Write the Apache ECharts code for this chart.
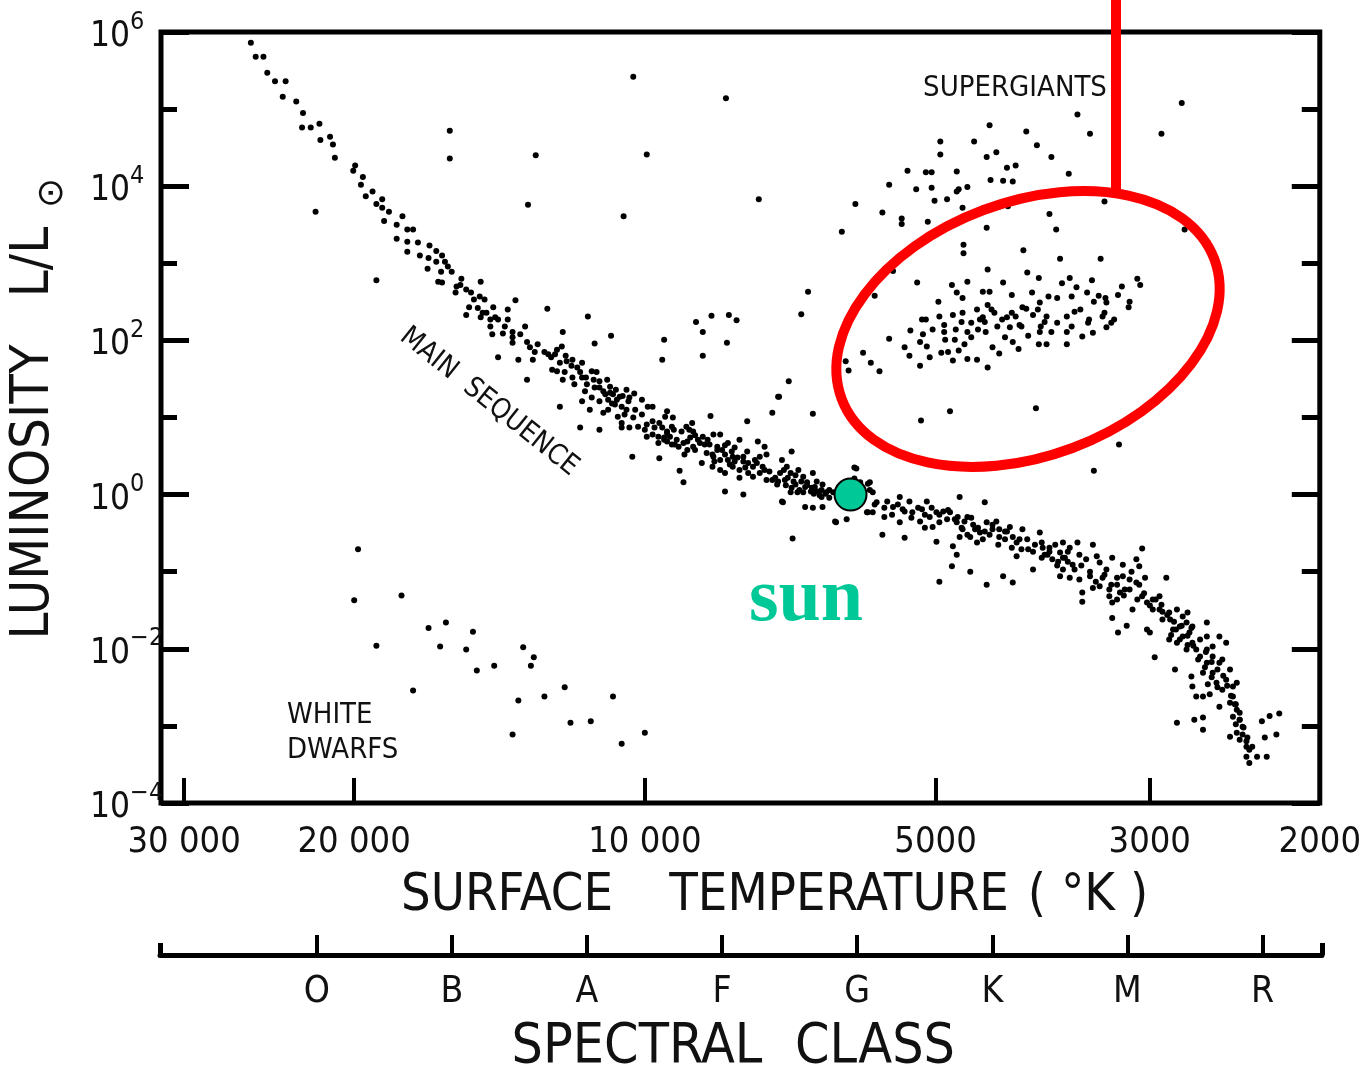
<!DOCTYPE html>
<html>
<head>
<meta charset="utf-8">
<script src="https://cdn.jsdelivr.net/npm/echarts@6/dist/echarts.min.js"></script>
<style>
  html, body { margin: 0; padding: 0; background: #fff; }
  #chart { width: 1364px; height: 1072px; }
</style>
</head>
<body>
<div id="chart"></div>
<script>
// ---- Axis definitions -------------------------------------------------
const tempRange = [2000, 31700];                       // K, right to left
const tempTicks = [30000, 20000, 10000, 5000, 3000, 2000];
const tempTickLabels = ['30 000', '20 000', '10 000', '5000', '3000', '2000'];
const lumRange = [-4, 6];                              // log10 L/Lsun
const spectralClasses = ['O', 'B', 'A', 'F', 'G', 'K', 'M', 'R'];
const spectralRange = [-1.16, 7.44];                   // class index span of the lower scale

// ---- Stars: [log10 T (K), log10 L/Lsun] --------------------------------
const mainSequenceUpper = [
  [4.408,5.86],[4.403,5.68],[4.395,5.68],[4.391,5.47],[4.383,5.36],[4.372,5.36],[4.375,5.16],[4.361,5.10],
  [4.354,4.95],[4.355,4.76],[4.346,4.76],[4.337,4.81],[4.336,4.60],[4.326,4.64],[4.323,4.54],[4.321,4.37],
  [4.300,4.27],[4.302,4.20],[4.292,4.12],[4.294,4.02],[4.289,3.87],[4.282,3.93],[4.278,3.77],[4.272,3.83],
  [4.272,3.72],[4.265,3.67],[4.270,3.55],[4.251,3.61],[4.257,3.50],[4.246,3.44],[4.240,3.44],[4.257,3.32],
  [4.246,3.28],[4.235,3.27],[4.223,3.23],[4.216,3.16],[4.246,3.15],[4.233,3.10],[4.224,3.07],[4.210,3.10],
  [4.216,3.02],[4.204,2.96],[4.225,2.93],[4.211,2.89],[4.214,2.76],[4.210,2.75],[4.190,2.80],[4.195,2.70],
  [4.196,2.62],[4.170,2.76],[4.180,2.62],[4.171,2.57],[4.166,2.53],[4.182,2.43],[4.185,2.33],[4.168,2.36],
  [4.157,2.43],[4.170,2.30],[4.160,2.27],[4.152,2.27],[4.142,2.40],[4.134,2.52],[4.142,2.27],[4.160,2.18],
  [4.158,2.08],[4.147,2.09],[4.137,2.11],[4.124,2.18],[4.137,1.97],[4.122,1.98],[4.111,1.95],[4.101,2.41],
  [4.085,2.11],[4.086,1.92],[4.152,1.78],[4.131,1.75],[4.116,1.75],[4.100,1.82],[4.093,1.82],
  [4.207,3.02],[4.200,2.89],[4.191,2.72],[4.185,2.66],[4.177,2.53],[4.173,2.42],[4.164,2.36],[4.155,2.30],
  [4.145,2.18],[4.137,2.04],[4.129,2.08],[4.119,1.91],[4.114,1.85]
];
const mainSequenceMiddle = [
  [4.096,1.62],[4.091,1.60],[4.085,1.49],[4.088,1.71],[4.081,1.73],[4.075,1.75],[4.065,1.71],[4.070,1.65],
  [4.075,1.52],[4.065,1.52],[4.060,1.43],[4.055,1.60],[4.050,1.59],[4.047,1.47],[4.039,1.49],[4.036,1.40],
  [4.043,1.34],[4.033,1.30],[4.026,1.27],[4.019,1.36],[4.016,1.26],[4.024,1.14],[4.029,1.23],[4.038,1.23],
  [4.047,1.21],[4.055,1.26],[4.065,1.21],[4.057,1.10],[4.043,1.06],[4.038,1.10],[4.028,1.01],[4.019,1.10],
  [4.003,1.23],[3.997,1.14],[3.992,1.14],[4.003,1.04],[4.012,1.00],[4.024,0.93],[4.024,0.87],[4.016,0.87],
  [4.007,0.88],[3.998,0.91],[3.992,0.95],[3.985,0.93],[3.977,1.08],[3.979,1.01],[3.971,1.00],[3.972,0.88],
  [3.977,0.82],[3.974,0.75],[3.986,0.75],[3.992,0.78],[3.998,0.75],[3.986,0.67],[3.977,0.69],[3.967,0.71],
  [3.962,0.82],[3.957,0.88],[3.951,0.93],[3.950,0.82],[3.953,0.74],[3.960,0.67],[3.965,0.62],[3.956,0.58],
  [3.950,0.62],[3.943,0.67],[3.940,0.75],[3.935,0.71],[3.929,0.78],[3.922,0.78],[3.925,0.62],[3.920,0.58],
  [3.914,0.67],[3.907,0.61],[3.902,0.71],[3.894,0.56],[3.898,0.49],[3.909,0.49],[3.914,0.45],[3.922,0.45],
  [3.929,0.49],[3.936,0.54],[3.941,0.41],[3.930,0.36],[3.922,0.32],[3.917,0.28],[3.909,0.36],[3.902,0.32],
  [3.893,0.41],[3.888,0.36],[3.883,0.69],[3.876,0.62],[3.874,0.52],[3.881,0.49],[3.884,0.41],[3.878,0.36],
  [3.871,0.30],[3.881,0.28],[3.888,0.23],[3.893,0.28],[3.902,0.22],[3.874,0.19],[3.868,0.19],[3.860,0.28],
  [3.863,0.13],[3.853,0.36],[3.849,0.28],[3.846,0.17],[3.841,0.32],[3.836,0.23],[3.832,0.16],[3.826,0.28],
  [3.822,0.17],[3.824,0.10],[3.816,0.13],[3.812,0.03],[3.817,-0.03],[3.809,-0.04],[3.805,0.03],[3.848,0.56],
  [3.858,0.45],[3.858,-0.09],[3.849,0.03],[3.842,0.03],[3.836,0.03],[3.828,0.04],[3.834,-0.16],[3.826,-0.17],
  [3.816,-0.16],[3.803,-0.35],[3.791,-0.32],[3.783,0.35],[3.777,0.16],[3.767,0.16],[3.764,0.03],[3.760,-0.10],
  [3.764,-0.23],[3.770,-0.23],[3.917,0.04],[3.898,0.00],[3.964,0.31],[3.960,0.16],[3.985,0.47],[4.013,0.49],
  [4.047,0.84],[4.067,0.87],[4.088,1.14],[4.122,1.49],[3.821,0.04],[3.817,0.06],[3.813,0.01],[3.819,-0.01],
  [3.825,0.01],[3.809,0.06],[3.767,0.06],[3.762,-0.13],[3.769,-0.23],[3.749,-0.09],[3.743,-0.16],[3.736,-0.03],
  [3.733,-0.19],[3.726,-0.09],[3.723,-0.23],[3.752,-0.29],[3.736,-0.36],[3.754,-0.52],[3.731,-0.56],[3.781,0.34],
  [3.783,0.21],[3.769,0.14],[3.802,-0.36],[3.826,1.05],[3.868,1.06],[3.862,1.27],[3.894,0.95],[3.857,-0.10],
  [3.847,-0.57],
  [4.083,1.59],[4.073,1.43],[4.062,1.34],[4.052,1.39],[4.041,1.30],[4.031,1.17],[4.021,1.04],[4.010,1.10],
  [4.000,0.84],[3.990,0.87],[3.980,0.74],[3.969,0.65],[3.959,0.52],[3.948,0.58],[3.938,0.65],[3.930,0.52],
  [3.917,0.52],[3.907,0.43],[3.896,0.35],[3.886,0.45],[3.876,0.32],[3.865,0.22],[3.855,0.19],[3.844,0.13],
  [3.834,0.10],[3.827,0.09],
  [4.036,1.32],[4.030,1.36],[4.023,1.28],[4.017,1.21],[4.034,1.18],[4.011,1.31],[3.982,0.87],[3.977,0.80],
  [3.970,0.84],[3.980,0.71],[3.972,0.65],[3.954,0.84],[3.948,0.77],[3.956,0.69],[3.945,0.71],[3.933,0.65],
  [3.925,0.58],[3.917,0.64],[3.910,0.56],[3.904,0.48],[3.898,0.43],[3.928,0.43],[3.912,0.39],[3.856,0.32],
  [3.852,0.22],[3.844,0.25],[3.838,0.17],[3.832,0.12],[3.824,0.04],[3.840,0.06],[3.848,0.09],[3.854,0.12],
  [3.862,0.17],[4.104,1.85],[4.097,1.78],[4.091,1.88],[4.082,1.80],[4.076,1.67],[4.067,1.59],[4.061,1.52],
  [4.053,1.49],[4.047,1.39]
];
const mainSequenceLower = [
  [3.713,-0.19],[3.708,-0.09],[3.715,-0.35],[3.710,-0.43],[3.705,-0.29],[3.698,-0.23],[3.691,-0.22],[3.684,-0.23],
  [3.695,-0.36],[3.687,-0.32],[3.702,-0.42],[3.674,-0.03],[3.648,-0.10],[3.677,-0.36],[3.671,-0.45],[3.674,-0.55],
  [3.666,-0.29],[3.660,-0.39],[3.663,-0.55],[3.656,-0.62],[3.653,-0.49],[3.646,-0.36],[3.640,-0.45],[3.636,-0.35],
  [3.633,-0.55],[3.625,-0.48],[3.619,-0.55],[3.615,-0.62],[3.609,-0.45],[3.610,-0.71],[3.615,-0.80],[3.604,-0.58],
  [3.598,-0.74],[3.598,-0.97],[3.591,-0.49],[3.589,-0.62],[3.586,-0.78],[3.581,-0.69],[3.578,-0.84],[3.570,-0.75],
  [3.567,-0.62],[3.562,-0.74],[3.557,-0.91],[3.552,-0.62],[3.550,-0.78],[3.543,-0.84],[3.536,-0.65],[3.532,-0.80],
  [3.529,-0.88],[3.522,-0.97],[3.516,-0.82],[3.505,-0.91],[3.491,-0.84],[3.488,-0.93],[3.485,-0.70],[3.570,-1.06],
  [3.560,-1.08],[3.567,-0.97],[3.550,-1.10],[3.539,-1.06],[3.536,-1.21],[3.529,-1.19],[3.547,-1.27],[3.547,-1.39],
  [3.519,-1.32],[3.516,-1.40],[3.508,-1.27],[3.505,-1.06],[3.498,-1.10],[3.491,-1.14],[3.485,-1.32],[3.495,-1.49],
  [3.480,-1.40],[3.474,-1.36],[3.467,-1.32],[3.460,-1.08],[3.474,-1.49],[3.467,-1.49],[3.464,-1.62],[3.457,-1.53],
  [3.449,-1.49],[3.443,-1.58],[3.438,-1.53],[3.446,-1.71],[3.453,-1.75],[3.457,-1.88],[3.449,-1.92],[3.443,-1.84],
  [3.436,-1.79],[3.433,-1.92],[3.439,-2.01],[3.429,-2.01],[3.425,-2.10],[3.418,-1.66],[3.418,-1.84],[3.412,-1.97],
  [3.405,-1.84],[3.398,-1.92],[3.412,-2.10],[3.405,-2.18],[3.418,-2.18],[3.422,-2.31],[3.412,-2.31],[3.402,-2.14],
  [3.394,-2.27],[3.398,-2.40],[3.408,-2.44],[3.402,-2.53],[3.391,-2.49],[3.387,-2.44],[3.391,-2.62],[3.394,-2.70],
  [3.387,-2.79],[3.391,-2.88],[3.384,-2.92],[3.381,-3.01],[3.387,-3.09],[3.384,-3.18],[3.394,-3.14],[3.377,-3.27],
  [3.371,-3.27],[3.377,-3.40],[3.366,-3.40],[3.374,-3.48],[3.356,-3.40],[3.358,-3.15],[3.346,-3.11],[3.361,-2.94],
  [3.353,-2.87],[3.343,-2.84],[3.405,-2.75],[3.422,-2.89],[3.431,-2.92],[3.449,-2.96],[3.422,-3.05],[3.433,-2.49],
  [3.429,-2.62],[3.422,-2.62],[3.415,-2.59],[3.434,-2.36],[3.451,-2.27],[3.472,-2.11],[3.480,-1.75],[3.477,-1.79],
  [3.501,-1.70],[3.510,-1.79],[3.516,-1.60],[3.418,-2.01],[3.433,-1.71],[3.439,-1.66],[3.698,-0.61],[3.681,-0.67],
  [3.677,-0.78],[3.682,-0.93],[3.663,-1.00],[3.695,-1.13],[3.646,-1.17],[3.629,-1.06],[3.619,-1.14],
  [3.676,-0.29],[3.669,-0.35],[3.662,-0.30],[3.655,-0.43],[3.648,-0.48],[3.640,-0.39],[3.633,-0.45],[3.627,-0.58],
  [3.622,-0.42],[3.588,-0.69],[3.583,-0.78],[3.575,-0.65],[3.565,-0.82],[3.560,-0.69],[3.572,-0.87],[3.524,-1.04],
  [3.517,-1.17],[3.511,-1.08],[3.503,-1.23],[3.496,-1.00],[3.488,-1.17],[3.482,-1.08],[3.511,-1.36],[3.465,-1.43],
  [3.459,-1.56],[3.452,-1.65],[3.446,-1.88],[3.438,-1.95],[3.434,-1.73],[3.455,-1.82],[3.427,-2.14],[3.420,-2.24],
  [3.413,-2.37],[3.407,-2.50],[3.417,-2.46],[3.389,-2.72],[3.384,-2.83],[3.388,-2.98],[3.381,-3.11],[3.377,-3.20],
  [3.752,-0.17],[3.744,-0.26],[3.738,-0.13],[3.731,-0.22],[3.724,-0.30],[3.717,-0.17],[3.710,-0.26],[3.703,-0.17],
  [3.695,-0.26],[3.686,-0.20],[3.679,-0.32],[3.672,-0.43],[3.666,-0.52],[3.658,-0.45],[3.650,-0.58],[3.643,-0.52],
  [3.634,-0.65],[3.627,-0.48],[3.620,-0.69],[3.612,-0.58],[3.603,-0.71],[3.596,-0.65],[3.589,-0.82],[3.581,-0.74],
  [3.573,-0.92],[3.567,-0.82],[3.562,-0.87],[3.555,-0.97],[3.548,-0.92],[3.539,-1.00],[3.533,-1.13],[3.526,-1.08],
  [3.519,-1.23],[3.511,-1.17],[3.504,-1.31],[3.498,-1.23],[3.490,-1.36],[3.483,-1.28],[3.477,-1.44],[3.471,-1.36],
  [3.464,-1.52],[3.456,-1.62],[3.450,-1.75],[3.444,-1.70],[3.438,-1.83],[3.432,-1.96],[3.425,-1.88],[3.419,-2.04],
  [3.413,-2.17],[3.407,-2.27],[3.401,-2.35],[3.397,-2.48],[3.393,-2.61],[3.388,-2.72],[3.384,-2.92],[3.380,-3.02],
  [3.376,-3.15],[3.374,-3.31]
];
const giantsAndSupergiants = [
  [3.444,5.08],[3.552,4.93],[3.539,4.68],[3.465,4.68],[3.643,4.79],[3.605,4.71],[3.694,4.58],[3.659,4.58],
  [3.694,4.41],[3.594,4.53],[3.636,4.44],[3.646,4.38],[3.579,4.38],[3.625,4.24],[3.616,4.27],[3.728,4.20],
  [3.709,4.18],[3.703,4.18],[3.677,4.19],[3.561,4.16],[3.642,4.08],[3.629,4.07],[3.619,4.06],[3.747,4.02],
  [3.703,3.98],[3.719,3.96],[3.677,3.93],[3.675,3.96],[3.666,3.99],[3.700,3.81],[3.687,3.83],[3.671,3.72],
  [3.624,3.74],[3.782,3.77],[3.754,3.66],[3.734,3.58],[3.734,3.51],[3.707,3.54],[3.524,3.80],[3.581,3.64],
  [3.646,3.46],[3.574,3.44],[3.796,3.41],[3.441,3.44],[3.670,3.24],[3.670,3.13],[3.608,3.17],[3.570,3.06],
  [3.528,3.06],[3.743,2.90],[3.645,2.92],[3.604,2.88],[3.592,2.81],[3.718,2.75],[3.682,2.72],[3.666,2.76],
  [3.629,2.75],[3.560,2.81],[3.568,2.74],[3.537,2.78],[3.490,2.80],[3.487,2.72],[3.506,2.70],[3.553,2.69],
  [3.762,2.58],[3.696,2.50],[3.677,2.62],[3.671,2.55],[3.650,2.63],[3.643,2.63],[3.620,2.59],[3.599,2.62],
  [3.591,2.49],[3.582,2.57],[3.573,2.55],[3.558,2.57],[3.542,2.62],[3.535,2.50],[3.530,2.58],[3.523,2.55],
  [3.522,2.49],[3.510,2.59],[3.498,2.50],[3.499,2.43],[3.524,2.36],[3.526,2.31],[3.514,2.27],[3.517,2.23],
  [3.522,2.17],[3.536,2.10],[3.540,2.27],[3.541,2.23],[3.549,2.40],[3.555,2.37],[3.563,2.31],[3.558,2.18],
  [3.573,2.23],[3.563,2.11],[3.563,1.95],[3.547,2.05],[3.579,2.11],[3.584,2.31],[3.586,2.24],[3.590,2.18],
  [3.591,2.11],[3.598,2.33],[3.593,2.40],[3.609,2.43],[3.605,2.41],[3.610,2.18],[3.612,2.20],[3.603,2.06],
  [3.616,2.31],[3.620,2.36],[3.625,2.30],[3.622,2.17],[3.630,2.27],[3.635,2.18],[3.638,2.36],[3.641,2.40],
  [3.645,2.46],[3.650,2.30],[3.656,2.40],[3.653,2.27],[3.648,2.24],[3.647,2.11],[3.655,2.14],[3.662,2.04],
  [3.662,2.23],[3.666,2.11],[3.671,2.36],[3.672,2.24],[3.678,2.14],[3.681,2.33],[3.690,2.20],[3.690,2.11],
  [3.689,2.01],[3.679,2.01],[3.669,1.95],[3.675,1.87],[3.686,1.85],[3.693,1.84],[3.695,2.31],[3.702,2.14],
  [3.709,2.27],[3.713,2.27],[3.712,2.08],[3.715,1.98],[3.708,1.92],[3.725,2.13],[3.731,1.91],[3.726,1.80],
  [3.705,1.78],[3.715,1.67],[3.681,1.74],[3.666,1.76],[3.656,1.75],[3.645,1.65],[3.633,1.83],[3.640,1.91],
  [3.627,2.04],[3.619,1.98],[3.613,1.89],[3.592,1.95],[3.584,1.95],[3.747,2.02],[3.757,1.60],[3.684,1.08],
  [3.714,0.96],[3.595,1.12],[3.509,0.65],[3.535,0.31]
];
const fieldStars = [
  [4.012,5.42],[3.916,5.14],[3.998,4.41],[3.882,3.83],[4.022,3.61],[3.831,2.63],[3.838,2.34],[3.931,2.32],
  [3.913,2.33],[3.947,2.24],[3.905,2.26],[3.940,2.11],[3.915,1.97],[3.940,1.80],[3.980,2.01],[3.982,1.75],
  [4.035,2.06],[4.052,1.96],[4.059,2.31],[3.851,1.47],[3.861,1.27],[3.932,1.02],[3.774,1.84],[3.766,1.71],
  [3.792,1.73],[3.789,1.61],[4.341,3.67],[4.278,2.78],[4.202,4.72],[4.202,4.36],[4.113,4.40],[4.121,3.76]
];
const whiteDwarfs = [
  [4.297,-0.71],[4.301,-1.37],[4.252,-1.31],[4.278,-1.96],[4.224,-1.73],[4.206,-1.66],[4.178,-1.78],[4.212,-1.97],
  [4.185,-2.01],[4.174,-2.28],[4.156,-2.22],[4.126,-1.98],[4.115,-2.11],[4.118,-2.22],[4.240,-2.54],[4.131,-2.67],
  [4.104,-2.62],[4.083,-2.50],[4.033,-2.62],[4.137,-3.11],[4.077,-2.96],[4.056,-2.94],[4.024,-3.23],[4.000,-3.09]
];
const sunPoint = [3.787, 0];

// ---- Styling --------------------------------------------------------------
const FONT = '"Liberation Sans Narrow", "DejaVu Sans Condensed", "Noto Sans", sans-serif';
const INK = '#111';
const RED = '#ff0000';
const SUN_GREEN = '#00c896';

const stars = [].concat(mainSequenceUpper, mainSequenceMiddle, mainSequenceLower,
                        giantsAndSupergiants, fieldStars, whiteDwarfs);

const tempTickPos = tempTicks.map(t => Math.log10(t));
const classPos = spectralClasses.map((_, i) => i);

function tempLabel(v) {
  const i = tempTickPos.findIndex(p => Math.abs(p - v) < 1e-6);
  return i >= 0 ? tempTickLabels[i] : '';
}
function lumLabel(v) {
  const e = Math.round(v);
  return '{b|10}{s|' + (e < 0 ? '\u2212' + (-e) : e) + '}';
}

const yBase = {
  type: 'value', gridIndex: 0, min: lumRange[0], max: lumRange[1],
  axisLine: { show: false, onZero: false }, splitLine: { show: false }
};

const chart = echarts.init(document.getElementById('chart'), null, { renderer: 'canvas' });
chart.setOption({
  animation: false,
  backgroundColor: '#fff',
  grid: [
    { left: 161, right: 43, top: 32, bottom: 269, show: true, borderColor: '#000', borderWidth: 5 },
    { left: 160, right: 42, top: 953, height: 2 }
  ],
  xAxis: [
    {
      type: 'value', gridIndex: 0, inverse: true, position: 'bottom',
      min: Math.log10(tempRange[0]), max: Math.log10(tempRange[1]),
      axisLine: { show: false, onZero: false }, splitLine: { show: false },
      axisTick: { inside: true, length: 25, customValues: tempTickPos, lineStyle: { color: '#000', width: 4 } },
      axisLabel: { customValues: tempTickPos, formatter: tempLabel, margin: 22,
                   fontFamily: FONT, fontSize: 36, color: INK }
    },
    {
      type: 'value', gridIndex: 1, position: 'bottom',
      min: spectralRange[0], max: spectralRange[1],
      axisLine: { show: true, onZero: false, lineStyle: { color: '#000', width: 5 } },
      splitLine: { show: false },
      axisTick: { inside: true, length: 20, customValues: classPos, lineStyle: { color: '#000', width: 4 } },
      axisLabel: { customValues: classPos, formatter: v => spectralClasses[Math.round(v)], margin: 19,
                   fontFamily: FONT, fontSize: 37, color: INK }
    },
    {
      type: 'value', gridIndex: 1, position: 'bottom',
      min: spectralRange[0], max: spectralRange[1],
      axisLine: { show: false, onZero: false }, splitLine: { show: false },
      axisTick: { inside: true, length: 12, customValues: spectralRange, lineStyle: { color: '#000', width: 5 } },
      axisLabel: { show: false }
    }
  ],
  yAxis: [
    Object.assign({}, yBase, {
      position: 'left', interval: 2,
      axisTick: { inside: true, length: 28, lineStyle: { color: '#000', width: 5 } },
      axisLabel: {
        margin: 71, align: 'left', formatter: lumLabel, color: INK,
        rich: {
          b: { fontFamily: FONT, fontSize: 35, color: INK, padding: [10, 0, 0, 0] },
          s: { fontFamily: FONT, fontSize: 25, color: INK, verticalAlign: 'top' }
        }
      }
    }),
    Object.assign({}, yBase, {
      position: 'left', interval: 1,
      axisTick: { inside: true, length: 16, lineStyle: { color: '#000', width: 5 } },
      axisLabel: { show: false }
    }),
    Object.assign({}, yBase, {
      position: 'right', interval: 2,
      axisTick: { inside: true, length: 28, lineStyle: { color: '#000', width: 5 } },
      axisLabel: { show: false }
    }),
    Object.assign({}, yBase, {
      position: 'right', interval: 1,
      axisTick: { inside: true, length: 18, lineStyle: { color: '#000', width: 5 } },
      axisLabel: { show: false }
    }),
    { type: 'value', gridIndex: 1, show: false, min: 0, max: 1 }
  ],
  series: [
    {
      type: 'scatter', xAxisIndex: 0, yAxisIndex: 0, data: stars,
      symbol: 'circle', symbolSize: 6, silent: true,
      itemStyle: { color: '#000', opacity: 1 }
    },
    {
      type: 'scatter', xAxisIndex: 0, yAxisIndex: 0, data: [sunPoint], z: 5,
      symbol: 'circle', symbolSize: 32, silent: true,
      itemStyle: { color: SUN_GREEN, opacity: 1, borderColor: '#000', borderWidth: 2 }
    }
  ],
  graphic: [
    // axis titles
    { type: 'text', x: 34, y: 492, rotation: Math.PI / 2, z: 10,
      style: { text: 'LUMINOSITY', fontFamily: FONT, fontSize: 54, fill: INK, align: 'center', verticalAlign: 'middle' } },
    { type: 'text', x: 34, y: 262, rotation: Math.PI / 2, z: 10,
      style: { text: 'L/L', fontFamily: FONT, fontSize: 54, fill: INK, align: 'center', verticalAlign: 'middle' } },
    { type: 'text', x: 53, y: 193, rotation: Math.PI / 2, z: 10,
      style: { text: '\u2299', fontFamily: '"DejaVu Sans", sans-serif', fontSize: 36, fill: INK, align: 'center', verticalAlign: 'middle' } },
    { type: 'text', x: 507, y: 896, z: 10,
      style: { text: 'SURFACE', fontFamily: FONT, fontSize: 52, fill: INK, align: 'center', verticalAlign: 'middle' } },
    { type: 'text', x: 839, y: 896, z: 10,
      style: { text: 'TEMPERATURE', fontFamily: FONT, fontSize: 52, fill: INK, align: 'center', verticalAlign: 'middle' } },
    { type: 'text', x: 1088, y: 896, z: 10,
      style: { text: '( \u00b0K )', fontFamily: FONT, fontSize: 52, fill: INK, align: 'center', verticalAlign: 'middle' } },
    { type: 'text', x: 637, y: 1048, z: 10,
      style: { text: 'SPECTRAL', fontFamily: FONT, fontSize: 55, fill: INK, align: 'center', verticalAlign: 'middle' } },
    { type: 'text', x: 875, y: 1048, z: 10,
      style: { text: 'CLASS', fontFamily: FONT, fontSize: 55, fill: INK, align: 'center', verticalAlign: 'middle' } },
    // region names
    { type: 'text', x: 1015, y: 88, z: 10,
      style: { text: 'SUPERGIANTS', fontFamily: FONT, fontSize: 29, fill: INK, align: 'center', verticalAlign: 'middle' } },
    { type: 'text', x: 287, y: 715, z: 10,
      style: { text: 'WHITE', fontFamily: FONT, fontSize: 29, fill: INK, align: 'left', verticalAlign: 'middle' } },
    { type: 'text', x: 287, y: 750, z: 10,
      style: { text: 'DWARFS', fontFamily: FONT, fontSize: 29, fill: INK, align: 'left', verticalAlign: 'middle' } },
    { type: 'text', x: 489, y: 402, rotation: -0.675, z: 10,
      style: { text: 'MAIN  SEQUENCE', fontFamily: FONT, fontSize: 28, fill: INK, align: 'center', verticalAlign: 'middle' } },
    // sun annotation
    { type: 'text', x: 806, y: 600, z: 10,
      style: { text: 'sun', fontFamily: '"Liberation Serif", "DejaVu Serif", serif', fontWeight: 'bold',
               fontSize: 76, fill: SUN_GREEN, align: 'center', verticalAlign: 'middle' } },
    // highlighted giant branch
    { type: 'ellipse', x: 1028, y: 329, rotation: 0.358, z: 20,
      shape: { cx: 0, cy: 0, rx: 199, ry: 127 },
      style: { fill: 'none', stroke: RED, lineWidth: 10 } },
    { type: 'line', z: 20,
      shape: { x1: 1116, y1: 0, x2: 1116, y2: 192 },
      style: { stroke: RED, lineWidth: 10 } }
  ]
});
</script>
</body>
</html>
